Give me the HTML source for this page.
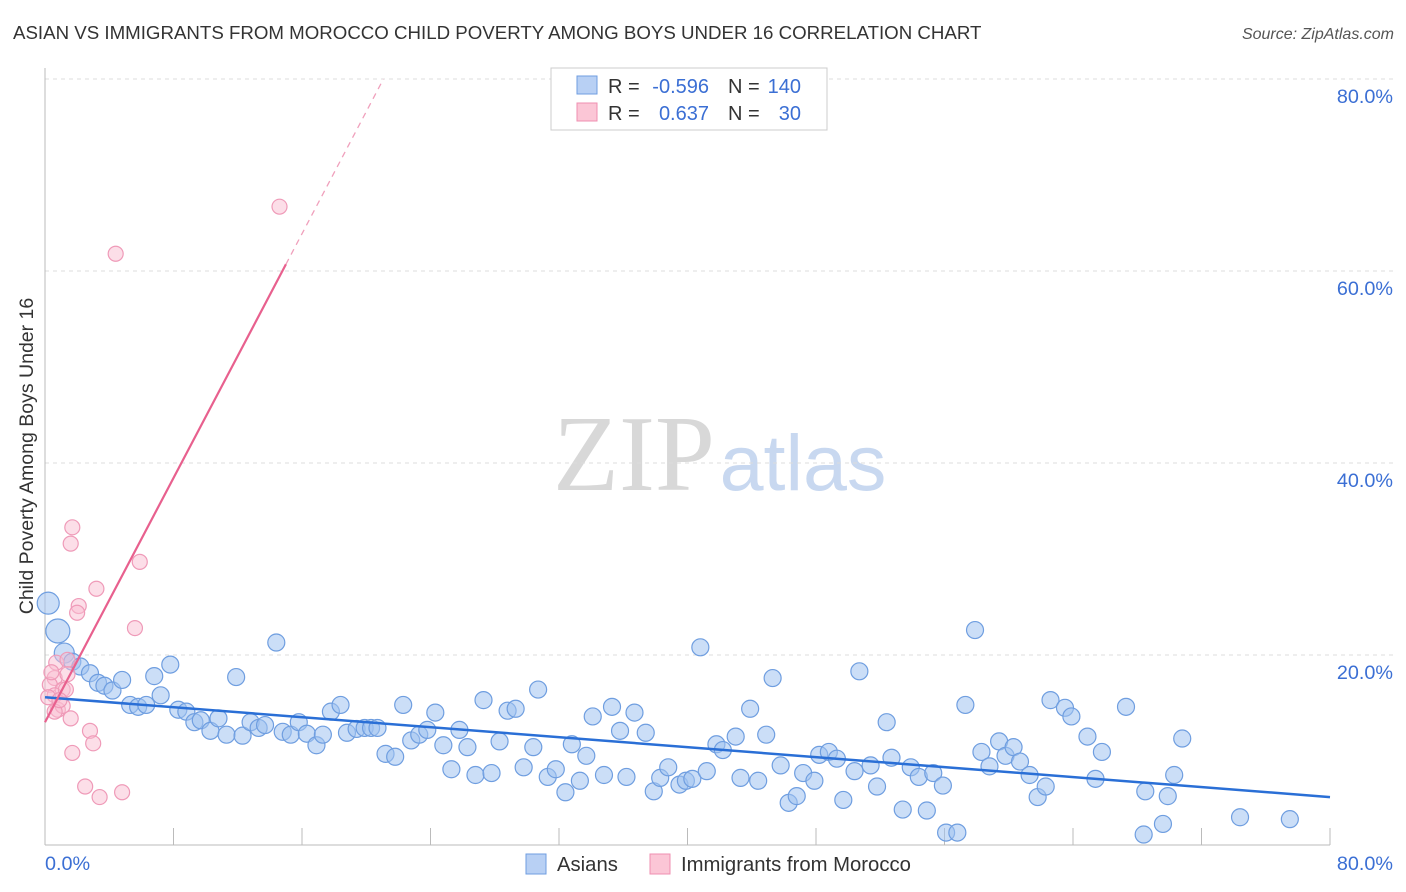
<!DOCTYPE html>
<html><head><meta charset="utf-8"><style>
body{margin:0;background:#fff;font-family:"Liberation Sans",sans-serif;}
svg{display:block}
</style></head><body>
<svg id="chart" width="1406" height="892">
<text x="13" y="39" font-size="18.7" fill="#333">ASIAN VS IMMIGRANTS FROM MOROCCO CHILD POVERTY AMONG BOYS UNDER 16 CORRELATION CHART</text>
<text x="1394" y="39" font-size="16" fill="#555" font-style="italic" text-anchor="end">Source: ZipAtlas.com</text>
<text x="634" y="490" font-size="108" fill="#d8d8d8" font-family="Liberation Serif,serif" text-anchor="middle">ZIP</text>
<text x="803" y="490" font-size="79" fill="#c8d8f0" text-anchor="middle">atlas</text>
<g id="grid"></g>
<g id="axes"></g>
<g id="pts"></g>
<g id="trend"></g>
<text x="33" y="456" font-size="19.5" fill="#333" text-anchor="middle" transform="rotate(-90 33 456)">Child Poverty Among Boys Under 16</text>
<g>
<rect x="551" y="68" width="276" height="62" fill="#fff" stroke="#ccc"/>
<rect x="577" y="76" width="20" height="18" fill="#b8d0f4" stroke="#6f9ee0"/>
<rect x="577" y="103" width="20" height="18" fill="#fbc6d6" stroke="#ef8fb0"/>
<text x="608" y="93" font-size="20" fill="#333">R =</text>
<text x="709" y="93" font-size="20" fill="#3b6fd4" text-anchor="end">-0.596</text>
<text x="728" y="93" font-size="20" fill="#333">N =</text>
<text x="801" y="93" font-size="20" fill="#3b6fd4" text-anchor="end">140</text>
<text x="608" y="120" font-size="20" fill="#333">R =</text>
<text x="709" y="120" font-size="20" fill="#3b6fd4" text-anchor="end">0.637</text>
<text x="728" y="120" font-size="20" fill="#333">N =</text>
<text x="801" y="120" font-size="20" fill="#3b6fd4" text-anchor="end">30</text>
</g>
<g>
<rect x="526" y="854" width="20" height="20" fill="#b8d0f4" stroke="#6f9ee0"/>
<text x="557" y="871" font-size="20.3" fill="#333">Asians</text>
<rect x="650" y="854" width="20" height="20" fill="#fbc6d6" stroke="#ef8fb0"/>
<text x="681" y="871" font-size="20.3" fill="#333">Immigrants from Morocco</text>
</g>
</svg>
<script>
const blueX=[0.2,0.8,1.2,1.7,2.2,2.8,3.3,3.7,4.2,4.8,5.3,5.8,6.3,6.8,7.2,7.8,8.3,8.8,9.3,9.7,10.3,10.8,11.3,11.9,12.3,12.8,13.3,13.7,14.4,14.8,15.3,15.8,16.3,16.9,17.3,17.8,18.4,18.8,19.4,19.9,20.3,20.7,21.2,21.8,22.3,22.8,23.3,23.8,24.3,24.8,25.3,25.8,26.3,26.8,27.3,27.8,28.3,28.8,29.3,29.8,30.4,30.7,31.3,31.8,32.4,32.8,33.3,33.7,34.1,34.8,35.3,35.8,36.2,36.7,37.4,37.9,38.3,38.8,39.5,39.9,40.3,40.8,41.2,41.8,42.2,43.0,43.3,43.9,44.4,44.9,45.3,45.8,46.3,46.8,47.2,47.9,48.2,48.8,49.3,49.7,50.4,50.7,51.4,51.8,52.4,52.7,53.4,53.9,54.4,54.9,55.3,55.9,56.1,56.8,57.3,57.9,58.3,58.8,59.4,59.8,60.3,60.7,61.3,61.8,62.3,62.6,63.5,63.9,64.9,65.8,65.4,67.3,68.5,68.4,69.6,69.9,70.3,70.8,74.4,77.5];
const blueY=[25.4,22.5,20.2,19.3,18.8,18.1,17.1,16.8,16.3,17.4,14.8,14.6,14.8,17.8,15.8,19.0,14.3,14.1,13.0,13.2,12.1,13.4,11.7,17.7,11.6,13.0,12.4,12.7,21.3,12.0,11.7,13.0,11.8,10.6,11.7,14.1,14.8,11.9,12.3,12.4,12.4,12.4,9.7,9.4,14.8,11.1,11.7,12.2,14.0,10.6,8.1,12.2,10.4,7.5,15.3,7.7,11.0,14.2,14.4,8.3,10.4,16.4,7.3,8.1,5.7,10.7,6.9,9.5,13.6,7.5,14.6,12.1,7.3,14.0,11.9,5.8,7.2,8.3,6.5,6.9,7.1,20.8,7.9,10.7,10.1,11.5,7.2,14.4,6.9,11.7,17.6,8.5,4.6,5.3,7.7,6.9,9.6,9.9,9.2,4.9,7.9,18.3,8.5,6.3,13.0,9.3,3.9,8.3,7.3,3.8,7.7,6.4,1.5,1.5,14.8,22.6,9.9,8.4,11.0,9.5,10.4,8.9,7.5,5.2,6.3,15.3,14.5,13.6,11.5,9.9,7.1,14.6,5.8,1.3,2.4,5.3,7.5,11.3,3.1,2.9];
const pinkX=[14.6,4.4,1.7,1.6,5.9,3.2,2.1,2.0,5.6,0.7,1.4,0.6,0.3,1.1,0.6,1.3,0.8,1.1,0.6,1.6,2.8,3.0,1.7,2.5,3.4,4.8,0.4,1.4,0.2,0.9];
const pinkY=[66.7,61.8,33.3,31.6,29.7,26.9,25.1,24.4,22.8,19.2,19.5,17.6,16.9,16.4,15.8,16.4,14.3,14.7,14.1,13.4,12.1,10.8,9.8,6.3,5.2,5.7,18.2,18.0,15.6,15.3];
const blueTrend=[15.6,5.2]; // y at x=0 and x=80
const pinkTrend=[13.0,60.7]; // y at x=0 and x=15
const yTicks=[20,40,60,80];
const yTickLabels=["20.0%","40.0%","60.0%","80.0%"];

const X=v=>45+v*16.0625, Y=v=>847-v*9.6;
const NS="http://www.w3.org/2000/svg";
function mk(tag,attrs,parent){const e=document.createElementNS(NS,tag);for(const k in attrs)e.setAttribute(k,attrs[k]);document.getElementById(parent).appendChild(e);return e;}
yTicks.forEach((t,i)=>{
 const l=mk('line',{x1:45,x2:1394,y1:Y(t),y2:Y(t),stroke:'#ddd','stroke-dasharray':'4 4'},'grid');
 
 
 const tx=mk('text',{x:1393,y:Y(t)+24,'font-size':19.8,fill:'#3b6fd4','text-anchor':'end'},'axes');
 tx.textContent=yTickLabels[i];
 
 
});
const xa=mk('line',{x1:45,x2:1330,y1:845,y2:845,stroke:'#bbb'},'axes');


const ya=mk('line',{x1:45,x2:45,y1:68,y2:845,stroke:'#bbb'},'axes');


for(let i=0;i<=10;i++){
 const t=mk('line',{x1:45+i*128.5,x2:45+i*128.5,y1:828,y2:845,stroke:'#bbb'},'axes');
 
 
}
const xl0=mk('text',{x:45,y:870,'font-size':19.8,fill:'#3b6fd4'},'axes');xl0.textContent='0.0%';


const xl1=mk('text',{x:1393,y:870,'font-size':19.8,fill:'#3b6fd4','text-anchor':'end'},'axes');xl1.textContent='80.0%';


blueX.forEach((x,i)=>{
 const r=i<3?(i==0?11:(i==1?12:10)):8.5;
 const c=mk('circle',{cx:X(x),cy:Y(blueY[i]),r:r,fill:'rgba(160,195,240,0.55)',stroke:'#6f9ee0','stroke-width':1.2},'pts');
 
 
});
pinkX.forEach((x,i)=>{
 const c=mk('circle',{cx:X(x),cy:Y(pinkY[i]),r:7.5,fill:'rgba(250,190,210,0.5)',stroke:'#ef9ab8','stroke-width':1.2},'pts');
 
 
});
const bt=mk('line',{x1:X(0),y1:Y(blueTrend[0]),x2:X(80),y2:Y(blueTrend[1]),stroke:'#2a6fd6','stroke-width':2.5},'trend');


const ps=(pinkTrend[1]-pinkTrend[0])/15;
const pt=mk('line',{x1:X(0),y1:Y(pinkTrend[0]),x2:X(15),y2:Y(pinkTrend[1]),stroke:'#e8608e','stroke-width':2.2},'trend');


const xe=(80-pinkTrend[0])/ps;
const pd=mk('line',{x1:X(15),y1:Y(pinkTrend[1]),x2:X(xe),y2:Y(80),stroke:'#f0a0bc','stroke-width':1.3,'stroke-dasharray':'6 5'},'trend');


</script>
</body></html>
